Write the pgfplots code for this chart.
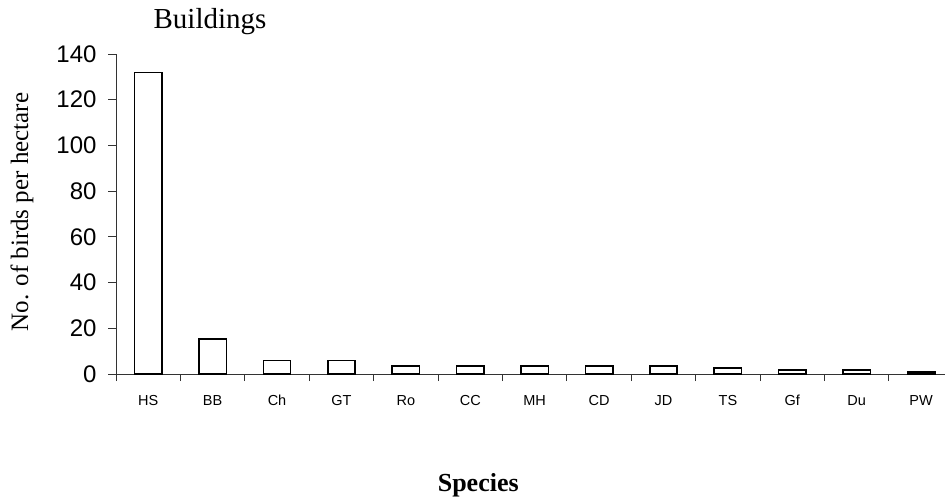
\documentclass[border=0pt]{standalone}
\usepackage{fontspec}
\setmainfont{Liberation Serif}
\setsansfont{Liberation Sans}
\usepackage{pgfplots}
\pgfplotsset{compat=1.18}
\begin{document}
\begin{tikzpicture}[x=1pt,y=1pt]
\useasboundingbox (0,0) rectangle (945,499);
\begin{axis}[
  at={(116pt,125pt)}, anchor=south west,
  scale only axis, width=829pt, height=320pt,
  xmin=-0.5, xmax=12.37, ymin=0, ymax=140,
  axis x line=bottom, axis y line=left,
  axis line style={-, line width=1pt, black!80},
  ytick={0,20,...,140},
  xtick={0,...,12},
  xticklabels={HS,BB,Ch,GT,Ro,CC,MH,CD,JD,TS,Gf,Du,PW},
  minor xtick={-0.5,0.5,...,11.5},
  major x tick style={draw=none},
  tick align=outside,
  major tick length=8pt, minor tick length=7pt,
  tick style={line width=1pt, black!80},
  minor tick style={line width=1pt, black!80},
  /pgf/number format/assume math mode=true,
  yticklabel style={font=\sffamily\fontsize{24}{24}\selectfont, xshift=-8pt},
  xticklabel style={font=\sffamily\fontsize{14.5}{14.5}\selectfont, yshift=-15pt, text height=1.1ex, text depth=0pt},
  title={Buildings},
  title style={at={(axis description cs:0.1134,1.0625)}, anchor=base, font=\fontsize{29}{29}\selectfont, inner sep=0pt},
  ylabel={No. of birds per hectare},
  ylabel style={at={(axis description cs:-0.1134,0.506)}, anchor=center, rotate=0, font=\fontsize{25}{25}\selectfont, inner sep=0pt},
  xlabel={Species},
  xlabel style={at={(axis description cs:0.437,-0.368)}, anchor=base, font=\bfseries\fontsize{26}{26}\selectfont, inner sep=0pt},
  ybar, bar width=27.4pt,
  clip=false,
]
\addplot[draw=black, fill=white, line width=1.5pt] coordinates {
 (0,132) (1,15.3) (2,6.0) (3,6.0) (4,3.5) (5,3.5) (6,3.5) (7,3.5) (8,3.5) (9,2.6) (10,1.75) (11,1.75) (12,0.9)
};
\end{axis}
\end{tikzpicture}
\end{document}
